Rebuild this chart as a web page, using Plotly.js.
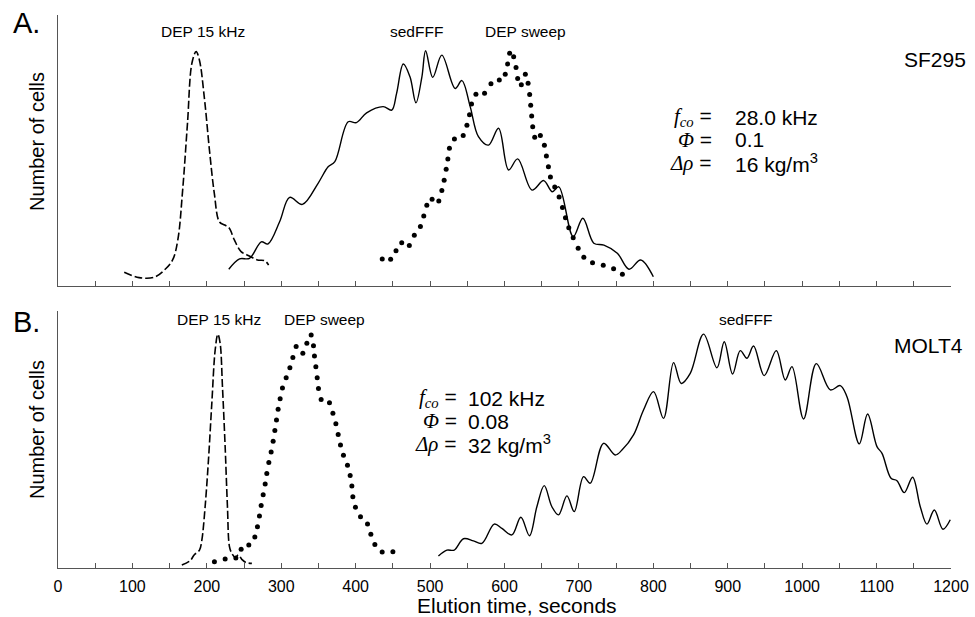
<!DOCTYPE html>
<html>
<head>
<meta charset="utf-8">
<script src="https://cdn.plot.ly/plotly-3.0.1.min.js"></script>
<style>html,body{margin:0;padding:0;background:#fff;}#chart{width:975px;height:617px;}</style>
</head>
<body>
<div id="chart"></div>
<script>
// ---------- Panel A (SF295) ----------
const aDep15X = [89,109,129,143,154,161,167.5,174,180,185.6,190,197,203.5,210,217,224,230,237,246,257,268,278,283];
const aDep15Y = [5.1,3.1,3.2,5.9,9.6,17,35.4,60,82.3,86.5,83.4,68.6,50.2,34.3,23.6,22.5,21.4,17,12.7,11.1,9.6,9.3,7.7];

const aSedX = [229.5,244,257.4,273.2,282,297.8,311.3,328.4,349.5,363,372,390,401,414.7,437,448.4,455,464,473,481,489,494,503.6,515.8,533.7,542.7,553.9,565,578.6,592,605.5,617.7,637,652.7,664,673,692.3,705.3,720,733.6,751.6,767.3,783,800];
const aSedY = [6.2,10,10.2,16.3,15.5,23.7,32.7,30.1,37.9,44,45.9,60.6,60.3,63.9,66.2,64.9,71.1,81.9,77.2,67.6,77.2,86.8,77,85.2,72.9,75.8,66.2,55.1,52,58.2,42.8,46.9,35.4,38.9,34.8,36.6,18.2,25,15.8,15.1,12.1,6.2,9.6,3.4];

const aSweepX = [435.7,447,454.2,461.9,472.1,478.8,487,491.5,495.6,502.7,511.7,515.8,518.9,521.6,523.9,526,532.7,544.5,549.5,553,555.7,561.6,573.2,581.8,593,601,604.2,606.9,612.3,615.5,617.7,622.6,628,631.7,633.8,635.2,636.5,637.9,640.6,648.2,653.6,656.3,659,661.7,667.5,673.4,677.9,681.9,686.4,692.3,699,706.6,718.3,732.7,746.6,758.4];
const aSweepY = [10,9.9,13,16,14.9,18.7,22,25.8,29.8,32,31.4,35.2,39,43.1,46.9,50.8,54.2,55.5,59.3,63.2,67.2,70.8,71.1,74.6,76,78.1,81.9,85.9,84.6,80.6,76.6,74.3,78.1,74.8,70.7,66.7,62.7,58.8,54.9,55.5,51.9,48,44,40.2,36.5,32.8,29,25.2,21.5,17.8,13.9,10.6,8.6,7.7,6.4,4.3];

// ---------- Panel B (MOLT4) ----------
const bDep15X = [166.4,177.6,182.9,190.1,193.3,197.7,202.2,206.7,211.2,214.8,217.9,221,224.6,227.7,230.4,233.6,238,242.5,247,252.8,260.5];
const bDep15Y = [1.1,2.7,4.8,6.6,10.3,22.6,39.9,60.8,80.4,86.3,82.9,66.9,44.8,22.6,7.9,5.4,3.9,4.8,3.2,2,1.7];

const bSweepX = [210.2,224.6,239,246.1,256.4,264.5,268,270.7,273,275.7,278.4,280.6,283.3,286.4,289.1,291.4,293.6,295.8,298.5,301.6,306.6,311.6,315.6,320,329,334.4,340.2,343.3,344.6,346.5,348.3,350,353.6,364.8,369.4,373.4,376.5,379.6,383.6,389,392.6,394.9,396.2,399.7,406.5,415.9,420.4,425.8,435.6,450];
const bSweepY = [2.3,3.3,3.7,6.9,8.5,11.4,15.2,19.2,23.1,27,31,34.9,38.9,42.8,46.8,50.7,54.6,58.6,62.5,66.4,70.2,73.9,77.7,81.7,79.2,82.9,86,82,78.2,74.3,70.2,66.2,62.2,61,57.1,53.2,49.3,45.4,41.6,37.9,34.1,30.3,26.3,22.4,18.9,16.2,12.5,8.7,5.9,6];

const bSedX = [511.2,522.6,532.4,544.9,558.3,569.6,586.2,596.5,609.9,622,633.6,643.5,653.4,663.7,672.6,683.9,693.7,706.2,715.2,733.1,748.8,757.8,773.4,786.8,800.3,813.7,827.2,837.5,849.6,867.5,885.5,895.3,906.5,916.8,925.8,934.7,949,965.2,977.3,986.3,1001.9,1019,1037.8,1051.2,1060.2,1076.8,1087.9,1100.5,1107.3,1119.4,1127.4,1137.2,1148.4,1158.7,1167.7,1177.6,1189.2,1199];
const bSedY = [4.4,6.6,6.6,10.8,10,9.1,16.2,14.6,12.2,18.7,11.9,22.6,30.4,22.6,19.6,26.6,20.8,33.7,31.3,46,41.7,43.5,49.1,58.3,65.1,55.2,75.8,68.1,71.8,86.3,73.9,83.5,71.6,80.2,77.4,81.9,71,80.2,69.4,74.3,55,75.4,65.7,67.3,63.2,45.8,56.8,44.8,42.3,33.1,32.2,27.8,33.5,22.6,16.2,21.4,14.3,17.8];

// ---------- Axis ticks ----------
const majorStep = 100;   // labelled ticks
const minorStep = 50;    // unlabelled ticks

// ---------- Geometry helpers (page px -> paper) ----------
const W = 975, H = 617, ML = 58, MR = 24, MT = 15, MB = 49;
const PW = W - ML - MR, PH = H - MT - MB;
const px = v => (v - ML) / PW;
const py = v => (H - MB - v) / PH;

const FONT = 'Liberation Sans, Arial, Helvetica, sans-serif';
const SERIF = 'Liberation Serif, Times New Roman, serif';

const solid = {color: '#000', width: 1.4, shape: 'spline', smoothing: 1};
const dashed = {color: '#000', width: 1.6, shape: 'spline', smoothing: 1, dash: '8px,3px'};
const dots = {color: '#000', size: 5};

const traces = [
  {x: aDep15X, y: aDep15Y, xaxis: 'x', yaxis: 'y', mode: 'lines', line: dashed},
  {x: aSedX, y: aSedY, xaxis: 'x', yaxis: 'y', mode: 'lines', line: solid},
  {x: aSweepX, y: aSweepY, xaxis: 'x', yaxis: 'y', mode: 'markers', marker: dots},
  {x: bDep15X, y: bDep15Y, xaxis: 'x2', yaxis: 'y2', mode: 'lines', line: dashed},
  {x: bSedX, y: bSedY, xaxis: 'x2', yaxis: 'y2', mode: 'lines', line: solid},
  {x: bSweepX, y: bSweepY, xaxis: 'x2', yaxis: 'y2', mode: 'markers', marker: dots}
];

function ann(text, x, y, size, opts) {
  return Object.assign({text: text, xref: 'paper', yref: 'paper', x: px(x), y: py(y),
    showarrow: false, xanchor: 'center', yanchor: 'middle',
    font: {family: FONT, size: size, color: '#000'}}, opts || {});
}
const sym = s => '<span style="font-family:' + SERIF + '"><i>' + s + '</i></span>';

const annotations = [
  ann('A.', 26, 23, 29),
  ann('B.', 26, 322, 29),
  ann('Number of cells', 37, 142, 20, {textangle: -90}),
  ann('Number of cells', 37, 430, 20, {textangle: -90}),
  ann('DEP 15 kHz', 203, 31, 15.5),
  ann('sedFFF', 416, 31, 15.5),
  ann('DEP sweep', 525, 31, 15.5),
  ann('SF295', 968, 60, 21, {xanchor: 'right'}),
  ann('DEP 15 kHz', 219, 319, 15.5),
  ann('DEP sweep', 324, 319, 15.5),
  ann('sedFFF', 745, 319, 15.5),
  ann('MOLT4', 965, 345, 21, {xanchor: 'right'}),
  // Panel A parameters
  ann(sym('f<sub>co</sub>') + ' =', 714, 117, 21, {xanchor: 'right'}),
  ann('28.0 kHz', 733, 117, 21, {xanchor: 'left'}),
  ann(sym('Φ') + ' =', 714, 140, 21, {xanchor: 'right'}),
  ann('0.1', 733, 140, 21, {xanchor: 'left'}),
  ann(sym('Δρ') + ' =', 714, 163, 21, {xanchor: 'right'}),
  ann('16 kg/m<sup>3</sup>', 733, 163, 21, {xanchor: 'left'}),
  // Panel B parameters
  ann(sym('f<sub>co</sub>') + ' =', 459, 398, 21, {xanchor: 'right'}),
  ann('102 kHz', 466, 398, 21, {xanchor: 'left'}),
  ann(sym('Φ') + ' =', 459, 421, 21, {xanchor: 'right'}),
  ann('0.08', 466, 421, 21, {xanchor: 'left'}),
  ann(sym('Δρ') + ' =', 459, 444, 21, {xanchor: 'right'}),
  ann('32 kg/m<sup>3</sup>', 466, 444, 21, {xanchor: 'left'}),
  ann('Elution time, seconds', 517, 605, 21)
];

const xBase = {range: [0, 1200], showgrid: false, zeroline: false, showline: true,
  linecolor: '#555', linewidth: 1, ticks: 'inside', ticklen: 5, tickcolor: '#555', tickwidth: 1,
  tickmode: 'linear', tick0: 0, dtick: majorStep,
  minor: {tickmode: 'linear', tick0: 0, dtick: minorStep, ticks: 'inside', ticklen: 5, tickcolor: '#555', tickwidth: 1, showgrid: false},
  ticklabelstandoff: 4,
  tickfont: {family: FONT, size: 16, color: '#000'}, fixedrange: true};
const yBase = {showgrid: false, zeroline: false, showline: true, linecolor: '#555', linewidth: 1,
  ticks: '', showticklabels: false, fixedrange: true};

const layout = {
  width: W, height: H,
  margin: {l: ML, r: MR, t: MT, b: MB, pad: 0},
  paper_bgcolor: '#fff', plot_bgcolor: '#fff',
  showlegend: false,
  font: {family: FONT, color: '#000'},
  xaxis: Object.assign({}, xBase, {anchor: 'y', showticklabels: false, matches: 'x2'}),
  yaxis: Object.assign({}, yBase, {domain: [py(286), 1], range: [0, 100], anchor: 'x'}),
  xaxis2: Object.assign({}, xBase, {anchor: 'y2', showticklabels: true}),
  yaxis2: Object.assign({}, yBase, {domain: [0, py(311)], range: [0, (568 - 311) / 2.71], anchor: 'x2'}),
  annotations: annotations
};

Plotly.newPlot('chart', traces, layout, {displayModeBar: false, staticPlot: true});
</script>
</body>
</html>
